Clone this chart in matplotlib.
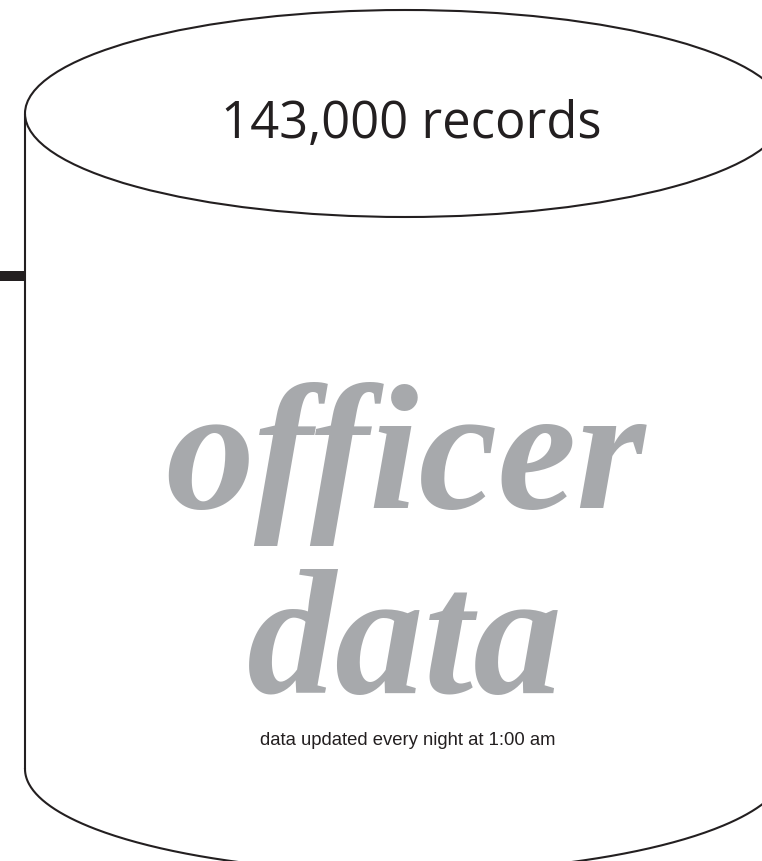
import numpy as np
import matplotlib.pyplot as plt
from matplotlib.patches import Ellipse, Rectangle

# canvas in pixels (y grows downwards)
W, H = 762, 862

# cylinder geometry
cx = 405          # centre x of the cylinder
half_w = 380      # half width of the ellipses
half_h = 103.5    # half height of the ellipses
top_y = 114.5     # centre y of the top ellipse
bottom_y = 770    # centre y of the bottom ellipse

# connector stub on the left
stub_y, stub_h = 272, 10

# texts
count_label = "143,000 records"
title_lines = ["officer", "data"]
note_label = "data updated every night at 1:00 am"

ink = "#231f20"
grey = "#a7a9ac"

fig = plt.figure(figsize=(W / 100, H / 100), dpi=100)
ax = fig.add_axes([0, 0, 1, 1])
ax.set_xlim(0, W)
ax.set_ylim(H, 0)
ax.axis("off")

# top ellipse
ax.add_patch(Ellipse((cx, top_y), 2 * half_w, 2 * half_h,
                     fill=False, edgecolor=ink, linewidth=1.5))

# side walls
left_x = cx - half_w
right_x = cx + half_w
ax.plot([left_x, left_x], [top_y, bottom_y], color=ink, linewidth=1.5,
        solid_capstyle="butt")
ax.plot([right_x, right_x], [top_y, bottom_y], color=ink, linewidth=1.5,
        solid_capstyle="butt")

# bottom front arc
t = np.linspace(0, np.pi, 300)
ax.plot(cx - half_w * np.cos(t), bottom_y + half_h * np.sin(t),
        color=ink, linewidth=1.5)

# connector stub
ax.add_patch(Rectangle((0, stub_y), left_x, stub_h, facecolor=ink,
                       edgecolor="none"))

ax.text(cx + 6, 138, count_label, ha="center", va="baseline",
        fontsize=36.5, color=ink, family="Open Sans")

ax.text(cx, 508, title_lines[0], ha="center", va="baseline",
        fontsize=128, color=grey, family="Liberation Serif",
        fontweight="bold", style="italic")
ax.text(cx, 693, title_lines[1], ha="center", va="baseline",
        fontsize=128, color=grey, family="Liberation Serif",
        fontweight="bold", style="italic")

ax.text(cx + 3, 745, note_label, ha="center", va="baseline",
        fontsize=13.3, color=ink, family="Liberation Sans")

fig.savefig("out.png", dpi=100)
